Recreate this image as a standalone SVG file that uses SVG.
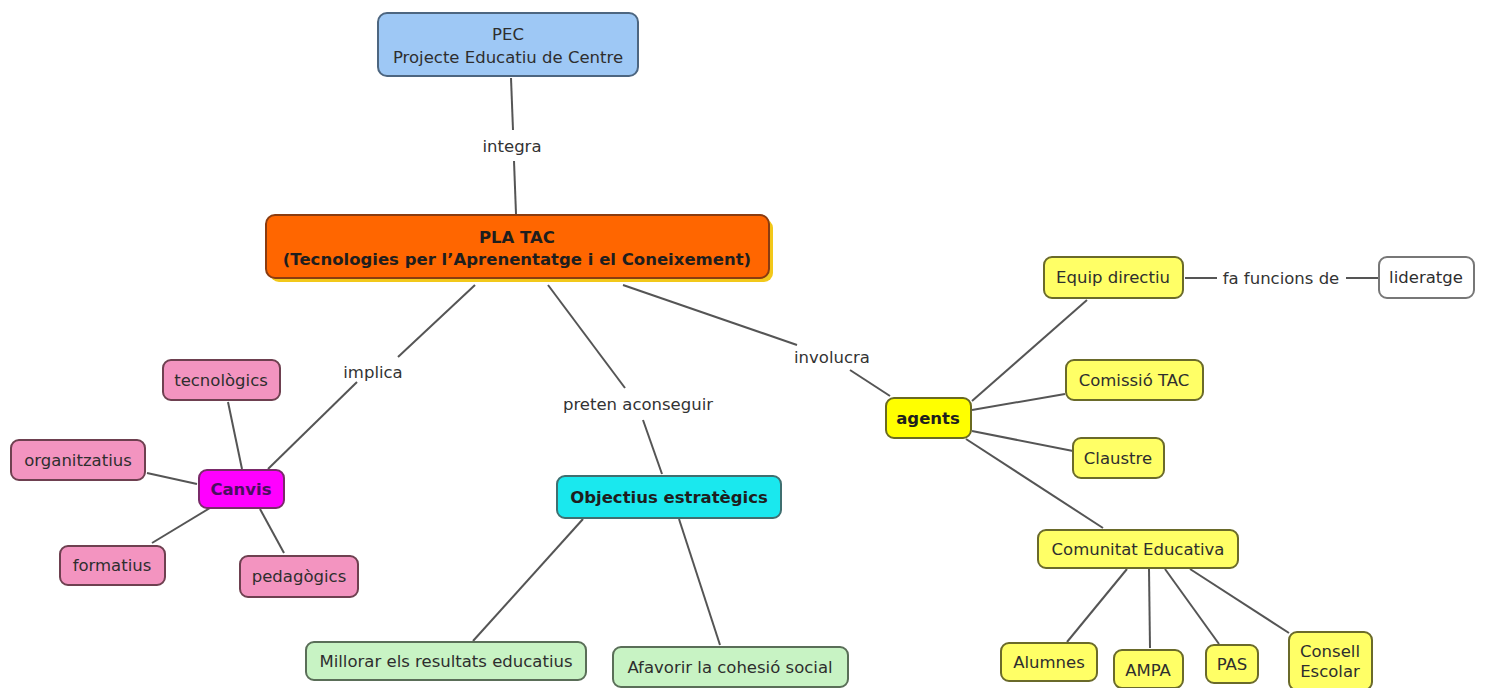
<svg xmlns="http://www.w3.org/2000/svg" width="1485" height="688" viewBox="0 0 1485 688">
<style>
text{font-family:"DejaVu Sans","Liberation Sans",sans-serif;font-size:16.5px;fill:#2e2e2e;text-anchor:middle;dominant-baseline:central}
.b{font-weight:bold;fill:#1e1e1e}
.lbl{fill:#333}
rect{stroke-width:2}
.blue{fill:#9ec8f5;stroke:#4d6680}
.orange{fill:#ff6600;stroke:#8a3c10}
.mag{fill:#ff00ff;stroke:#7a2a6a}
.pink{fill:#f394c0;stroke:#6e4050}
.cyan{fill:#1ae8ee;stroke:#3f6f70}
.green{fill:#c8f3c4;stroke:#5a6e58}
.yel{fill:#ffff00;stroke:#6a6a20}
.ly{fill:#ffff66;stroke:#6a6a2a}
.white{fill:#fff;stroke:#777}
#connectors line{stroke:#555;stroke-width:2}
</style>
<rect width="1485" height="688" fill="#fff" style="stroke:none"/>
<g id="connectors">
<line x1="511" y1="78" x2="513" y2="130"/>
<line x1="514" y1="161" x2="516" y2="214"/>
<line x1="475" y1="285" x2="398" y2="357"/>
<line x1="357" y1="382" x2="268" y2="469"/>
<line x1="548" y1="285" x2="625" y2="388"/>
<line x1="643" y1="420" x2="662" y2="474"/>
<line x1="623" y1="285" x2="797" y2="345"/>
<line x1="850" y1="370" x2="890" y2="396"/>
<line x1="242" y1="469" x2="228" y2="402"/>
<line x1="197" y1="484" x2="147" y2="473"/>
<line x1="210" y1="508" x2="152" y2="543"/>
<line x1="260" y1="509" x2="284" y2="553"/>
<line x1="583" y1="519" x2="473" y2="641"/>
<line x1="679" y1="519" x2="720" y2="645"/>
<line x1="972" y1="401" x2="1087" y2="300"/>
<line x1="972" y1="410" x2="1065" y2="394"/>
<line x1="972" y1="431" x2="1073" y2="451"/>
<line x1="966" y1="439" x2="1103" y2="528"/>
<line x1="1185" y1="278" x2="1217" y2="278"/>
<line x1="1346" y1="278" x2="1380" y2="278"/>
<line x1="1127" y1="569" x2="1067" y2="642"/>
<line x1="1149" y1="569" x2="1150" y2="648"/>
<line x1="1165" y1="569" x2="1219" y2="644"/>
<line x1="1190" y1="569" x2="1289" y2="633"/>
<text class="lbl" x="512" y="146">integra</text>
<text class="lbl" x="373" y="372">implica</text>
<text class="lbl" x="638" y="404">preten aconseguir</text>
<text class="lbl" x="832" y="357">involucra</text>
<text class="lbl" x="1281" y="278">fa funcions de</text>
</g>
<g id="pec"><rect class="blue" x="378" y="13" width="260" height="63" rx="9"/><text x="508" y="34">PEC</text><text x="508" y="57">Projecte Educatiu de Centre</text></g>
<g id="platac"><rect x="270" y="219" width="503" height="63" rx="9" fill="#f2c81a" style="stroke:none"/><rect class="orange" x="266" y="215" width="503" height="63" rx="9"/><text class="b" x="517" y="237">PLA TAC</text><text class="b" x="517" y="259">(Tecnologies per l’Aprenentatge i el Coneixement)</text></g>
<g id="canvis"><rect class="mag" x="199" y="470" width="85" height="38" rx="8"/><text class="b" x="241" y="489" style="fill:#4a1060">Canvis</text></g>
<g id="tecnologics"><rect class="pink" x="163" y="360" width="117" height="40" rx="8"/><text x="221" y="380">tecnològics</text></g>
<g id="organitzatius"><rect class="pink" x="11" y="440" width="134" height="40" rx="8"/><text x="78" y="460">organitzatius</text></g>
<g id="formatius"><rect class="pink" x="60" y="546" width="105" height="39" rx="8"/><text x="112" y="565">formatius</text></g>
<g id="pedagogics"><rect class="pink" x="240" y="556" width="118" height="41" rx="8"/><text x="299" y="576">pedagògics</text></g>
<g id="objectius"><rect class="cyan" x="557" y="476" width="224" height="42" rx="8"/><text class="b" x="669" y="497">Objectius estratègics</text></g>
<g id="millorar"><rect class="green" x="306" y="642" width="280" height="38" rx="8"/><text x="446" y="661">Millorar els resultats educatius</text></g>
<g id="afavorir"><rect class="green" x="613" y="647" width="235" height="40" rx="8"/><text x="730" y="667">Afavorir la cohesió social</text></g>
<g id="agents"><rect class="yel" x="886" y="398" width="85" height="40" rx="8"/><text class="b" x="928" y="418">agents</text></g>
<g id="equip"><rect class="ly" x="1044" y="257" width="139" height="41" rx="8"/><text x="1113" y="277">Equip directiu</text></g>
<g id="lideratge"><rect class="white" x="1379" y="257" width="95" height="41" rx="8"/><text x="1426" y="277">lideratge</text></g>
<g id="comissio"><rect class="ly" x="1066" y="360" width="137" height="40" rx="8"/><text x="1134" y="380">Comissió TAC</text></g>
<g id="claustre"><rect class="ly" x="1073" y="438" width="91" height="40" rx="8"/><text x="1118" y="458">Claustre</text></g>
<g id="comunitat"><rect class="ly" x="1038" y="530" width="200" height="38" rx="8"/><text x="1138" y="549">Comunitat Educativa</text></g>
<g id="alumnes"><rect class="ly" x="1001" y="643" width="96" height="38" rx="8"/><text x="1049" y="662">Alumnes</text></g>
<g id="ampa"><rect class="ly" x="1114" y="650" width="69" height="38" rx="8"/><text x="1148" y="670">AMPA</text></g>
<g id="pas"><rect class="ly" x="1206" y="645" width="52" height="38" rx="8"/><text x="1232" y="664">PAS</text></g>
<g id="consell"><rect class="ly" x="1289" y="632" width="83" height="58" rx="8"/><text x="1330" y="651">Consell</text><text x="1330" y="671">Escolar</text></g>
</svg>
